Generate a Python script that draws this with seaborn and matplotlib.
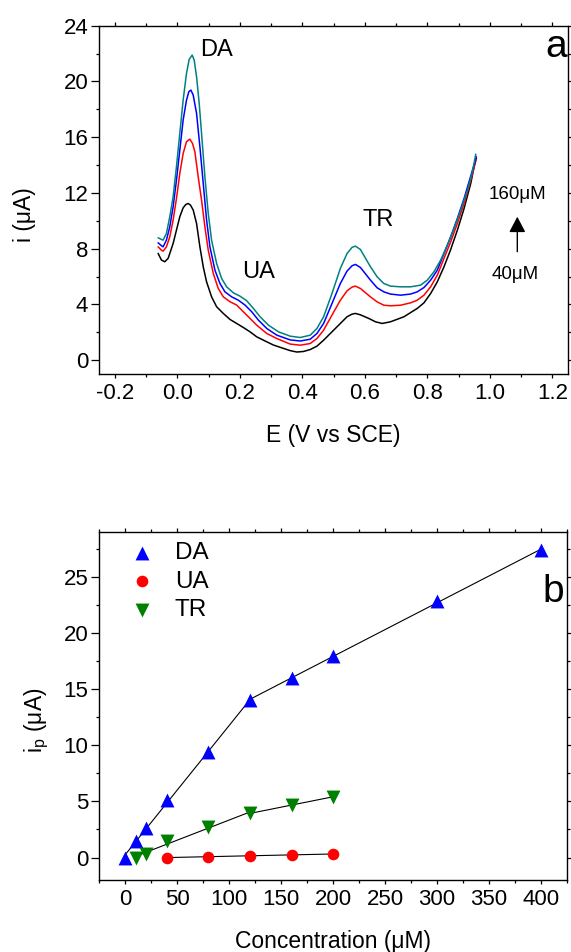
import numpy as np
import matplotlib
matplotlib.use("Agg")
import matplotlib.pyplot as plt
import seaborn as sns
from matplotlib.ticker import MultipleLocator, FormatStrFormatter

# ---------------- data: panel a (DPV curves) ----------------
E_40 = [-0.0618, -0.0511, -0.0404, -0.0297, -0.0137, -0.0030, 0.0077, 0.0184, 0.0270, 0.0345,
        0.0420, 0.0506, 0.0613, 0.0720, 0.0827, 0.0934, 0.1094, 0.1255, 0.1469, 0.1683,
        0.1897, 0.2111, 0.2325, 0.2539, 0.2754, 0.3075, 0.3396, 0.3610, 0.3824, 0.4038,
        0.4252, 0.4466, 0.4680, 0.4948, 0.5216, 0.5430, 0.5590, 0.5697, 0.5858, 0.6126,
        0.6340, 0.6554, 0.6821, 0.7250, 0.7678, 0.7892, 0.8106, 0.8320, 0.8534, 0.8748,
        0.8962, 0.9176, 0.9390, 0.9551]
I_40 = [7.66, 7.18, 7.06, 7.30, 8.37, 9.33, 10.29, 10.93, 11.17, 11.24,
        11.12, 10.77, 9.81, 8.13, 6.70, 5.62, 4.54, 3.83, 3.35, 2.92,
        2.63, 2.34, 2.03, 1.67, 1.43, 1.08, 0.84, 0.68, 0.58, 0.62,
        0.76, 1.00, 1.43, 2.03, 2.63, 3.11, 3.30, 3.35, 3.25, 2.99,
        2.75, 2.63, 2.75, 3.11, 3.71, 4.11, 4.78, 5.62, 6.70, 7.94,
        9.33, 10.88, 12.68, 14.47]

E_80 = [-0.0618, -0.0511, -0.0458, -0.0351, -0.0244, -0.0137, -0.0030, 0.0077, 0.0184, 0.0291,
        0.0398, 0.0484, 0.0559, 0.0666, 0.0773, 0.0880, 0.0987, 0.1148, 0.1308, 0.1469,
        0.1683, 0.1897, 0.2111, 0.2325, 0.2539, 0.2861, 0.3182, 0.3610, 0.3931, 0.4252,
        0.4466, 0.4680, 0.4948, 0.5216, 0.5430, 0.5590, 0.5697, 0.5858, 0.6179, 0.6393,
        0.6607, 0.6821, 0.7142, 0.7464, 0.7678, 0.7892, 0.8106, 0.8320, 0.8534, 0.8748,
        0.8962, 0.9176, 0.9390, 0.9572]
I_80 = [8.13, 7.89, 7.82, 8.13, 8.85, 10.05, 11.60, 13.40, 14.83, 15.67,
        15.86, 15.55, 14.95, 13.16, 11.48, 9.57, 7.89, 6.22, 5.14, 4.54,
        4.19, 3.95, 3.47, 2.99, 2.51, 1.91, 1.55, 1.15, 1.07, 1.19,
        1.55, 2.15, 3.23, 4.30, 4.97, 5.24, 5.31, 5.14, 4.54, 4.18,
        3.94, 3.90, 3.94, 4.11, 4.30, 4.66, 5.26, 6.10, 7.30, 8.49,
        9.81, 11.24, 12.92, 14.47]

E_120 = [-0.0618, -0.0511, -0.0458, -0.0351, -0.0244, -0.0137, -0.0030, 0.0077, 0.0184, 0.0291,
         0.0366, 0.0431, 0.0506, 0.0613, 0.0720, 0.0827, 0.0934, 0.1041, 0.1201, 0.1362,
         0.1522, 0.1737, 0.1951, 0.2165, 0.2379, 0.2593, 0.2861, 0.3182, 0.3610, 0.3931,
         0.4252, 0.4466, 0.4680, 0.4948, 0.5216, 0.5430, 0.5590, 0.5697, 0.5858, 0.6179,
         0.6393, 0.6607, 0.6821, 0.7142, 0.7464, 0.7678, 0.7892, 0.8106, 0.8320, 0.8534,
         0.8748, 0.8962, 0.9176, 0.9390, 0.9572]
I_120 = [8.42, 8.21, 8.13, 8.61, 9.57, 11.00, 12.92, 15.07, 17.23, 18.66,
         19.26, 19.38, 19.02, 17.71, 15.31, 12.68, 10.05, 8.13, 6.46, 5.50,
         4.90, 4.54, 4.30, 3.95, 3.47, 2.87, 2.27, 1.79, 1.45, 1.37,
         1.50, 1.91, 2.63, 4.06, 5.50, 6.39, 6.77, 6.87, 6.65, 5.74,
         5.19, 4.90, 4.74, 4.66, 4.74, 4.90, 5.21, 5.74, 6.46, 7.65,
         8.85, 10.17, 11.60, 13.21, 14.59]

E_160 = [-0.0618, -0.0511, -0.0458, -0.0351, -0.0244, -0.0137, -0.0030, 0.0077, 0.0184, 0.0291,
         0.0377, 0.0473, 0.0538, 0.0613, 0.0698, 0.0773, 0.0880, 0.0987, 0.1094, 0.1255,
         0.1415, 0.1576, 0.1790, 0.2004, 0.2218, 0.2432, 0.2646, 0.2914, 0.3235, 0.3610,
         0.3931, 0.4252, 0.4466, 0.4680, 0.4948, 0.5216, 0.5430, 0.5590, 0.5697, 0.5858,
         0.6179, 0.6393, 0.6607, 0.6821, 0.7142, 0.7464, 0.7785, 0.7999, 0.8213, 0.8427,
         0.8641, 0.8855, 0.9069, 0.9283, 0.9444, 0.9551]
I_160 = [8.78, 8.66, 8.61, 9.09, 10.29, 11.72, 13.88, 16.27, 18.66, 20.58,
         21.58, 21.89, 21.53, 20.34, 18.42, 16.27, 13.16, 10.53, 8.61, 6.94,
         5.86, 5.26, 4.83, 4.59, 4.26, 3.71, 3.11, 2.51, 2.03, 1.72,
         1.62, 1.79, 2.27, 3.11, 4.78, 6.58, 7.65, 8.09, 8.18, 7.94,
         6.70, 5.98, 5.50, 5.31, 5.26, 5.26, 5.38, 5.74, 6.34, 7.18,
         8.25, 9.45, 10.77, 12.20, 13.52, 14.78]

curve_colors = ["#000000", "#ff0000", "#0000ff", "#008080"]

# ---------------- data: panel b (calibration) ----------------
conc_DA = [0, 10, 20, 40, 80, 120, 160, 200, 300, 400]
ip_DA = [0.0, 1.5, 2.6, 5.1, 9.4, 14.0, 16.0, 17.95, 22.8, 27.35]
conc_UA = [40, 80, 120, 160, 200]
ip_UA = [0.0, 0.08, 0.15, 0.24, 0.32]
conc_TR = [10, 20, 40, 80, 120, 160, 200]
ip_TR = [0.0, 0.35, 1.45, 2.73, 3.93, 4.67, 5.41]

# ---------------- style ----------------
sns.set_theme(style="ticks")
plt.rcParams["font.family"] = ["Liberation Sans", "DejaVu Sans"]
plt.rcParams["mathtext.default"] = "regular"
for key in ["text.color", "axes.labelcolor", "xtick.color", "ytick.color",
            "axes.edgecolor", "xtick.labelcolor", "ytick.labelcolor"]:
    plt.rcParams[key] = "black"

fig = plt.figure(figsize=(5.71, 9.52), dpi=100)
ax1 = fig.add_axes([0.1739, 0.6071, 0.8207, 0.3659])
ax2 = fig.add_axes([0.1739, 0.0756, 0.8190, 0.3659])


def style_axis(ax):
    for sp in ax.spines.values():
        sp.set_visible(True)
        sp.set_linewidth(1.0)
        sp.set_color("black")
    ax.tick_params(which="both", direction="out", top=True, right=True,
                   color="black", width=0.9, labelsize=16, labelcolor="black")
    ax.tick_params(axis="x", which="major", length=3.2, pad=3.0)
    ax.tick_params(axis="x", which="minor", length=2.0)
    ax.tick_params(axis="y", which="major", length=5.5, pad=2.5)
    ax.tick_params(axis="y", which="minor", length=2.4)
    ax.grid(False)


# ---------------- panel a ----------------
for E, I, c in zip([E_40, E_80, E_120, E_160], [I_40, I_80, I_120, I_160], curve_colors):
    sns.lineplot(x=E, y=I, color=c, lw=1.1, sort=False, estimator=None, ax=ax1)

ax1.set_xlim(-0.25, 1.25)
ax1.set_ylim(-1, 24)
ax1.xaxis.set_major_locator(MultipleLocator(0.2))
ax1.xaxis.set_minor_locator(MultipleLocator(0.1))
ax1.yaxis.set_major_locator(MultipleLocator(4))
ax1.yaxis.set_minor_locator(MultipleLocator(2))
ax1.xaxis.set_major_formatter(FormatStrFormatter("%.1f"))
ax1.yaxis.set_major_formatter(FormatStrFormatter("%d"))
style_axis(ax1)
ax1.set_xlabel("E (V vs SCE)", fontsize=16.5)
ax1.set_ylabel("i (\u03bcA)", fontsize=16.5)
ax1.xaxis.set_label_coords(0.5, -0.143)
ax1.yaxis.set_label_coords(-0.135, 0.457)

ax1.text(0.0726, 21.82, "DA", fontsize=17, ha="left", va="baseline")
ax1.text(0.206, 5.86, "UA", fontsize=17, ha="left", va="baseline")
ax1.text(0.591, 9.64, "TR", fontsize=17, ha="left", va="baseline")
ax1.text(1.088, 11.54, "160\u03bcM", fontsize=13.5, ha="center", va="baseline")
ax1.text(1.080, 5.79, "40\u03bcM", fontsize=13.5, ha="center", va="baseline")
ax1.annotate("", xy=(1.088, 10.29), xytext=(1.088, 7.78),
             arrowprops=dict(arrowstyle="-|>,head_width=0.5,head_length=0.95",
                             mutation_scale=10, lw=1.0, color="black",
                             shrinkA=0, shrinkB=0))
ax1.text(0.998, 0.911, "a", fontsize=28, ha="right", va="baseline",
         transform=ax1.transAxes)

# ---------------- panel b ----------------
def segment(x, y, lo, hi):
    x = np.asarray(x, float)
    y = np.asarray(y, float)
    m = (x >= lo) & (x <= hi)
    k, b = np.polyfit(x[m], y[m], 1)
    xs = np.array([lo, hi], float)
    return xs, k * xs + b

for (xx, yy, lo, hi) in [(conc_DA, ip_DA, 0, 120), (conc_DA, ip_DA, 120, 400),
                         (conc_TR, ip_TR, 10, 120), (conc_TR, ip_TR, 120, 200),
                         (conc_UA, ip_UA, 40, 200)]:
    xs, ys = segment(xx, yy, lo, hi)
    sns.lineplot(x=xs, y=ys, color="black", lw=0.8, estimator=None, ax=ax2)

sns.scatterplot(x=conc_DA, y=ip_DA, marker="^", s=100, color="#0000ff",
                linewidth=0, ax=ax2, label="DA", zorder=3)
sns.scatterplot(x=conc_UA, y=ip_UA, marker="o", s=70, color="#ff0000",
                linewidth=0, ax=ax2, label="UA", zorder=3)
sns.scatterplot(x=conc_TR, y=ip_TR, marker="v", s=100, color="#008000",
                linewidth=0, ax=ax2, label="TR", zorder=3)

ax2.set_xlim(-25, 425)
ax2.set_ylim(-2, 29)
ax2.xaxis.set_major_locator(MultipleLocator(50))
ax2.xaxis.set_minor_locator(MultipleLocator(25))
ax2.yaxis.set_major_locator(MultipleLocator(5))
ax2.yaxis.set_minor_locator(MultipleLocator(2.5))
style_axis(ax2)
ax2.set_xlabel("Concentration (\u03bcM)", fontsize=16.5)
ax2.set_ylabel("i$_p$ (\u03bcA)", fontsize=16.5)
ax2.xaxis.set_label_coords(0.5, -0.143)
ax2.yaxis.set_label_coords(-0.103, 0.459)

ax2.legend(loc="upper left", bbox_to_anchor=(0.0646, 0.970), frameon=False,
           fontsize=17.5, handlelength=1.0, handletextpad=0.87,
           borderpad=0, borderaxespad=0, labelspacing=0.27)
ax2.text(0.993, 0.799, "b", fontsize=28, ha="right", va="baseline",
         transform=ax2.transAxes)

fig.savefig("out.png", dpi=100)
